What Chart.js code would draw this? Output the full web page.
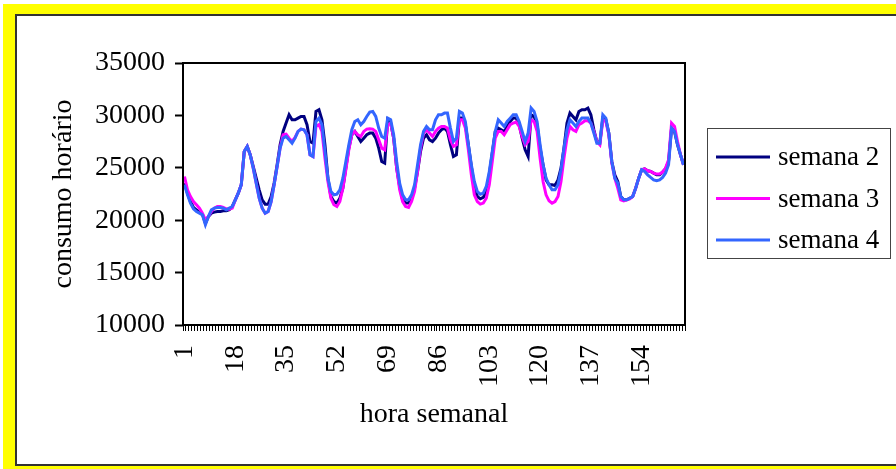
<!DOCTYPE html>
<html>
<head>
<meta charset="utf-8">
<script src="https://cdn.jsdelivr.net/npm/chart.js@4/dist/chart.umd.min.js"></script>
<style>
  body { margin: 0; background: #fff; overflow: hidden; }
  .yellow { position: absolute; left: 3px; top: 4px; width: 900px; height: 470px; background: #ffff00; }
  .inner { position: absolute; left: 15px; top: 14px; width: 900px; height: 452px; box-sizing: border-box;
           border: 2px solid #333; background: #fff; }
  canvas { position: absolute; left: 0; top: 0; }
</style>
</head>
<body>
<div class="yellow"></div>
<div class="inner"></div>
<canvas id="lineChart" width="896" height="469"></canvas>
<script>
// hours of the week 1..168
var hours = Array.from({ length: 168 }, (_, i) => String(i + 1));
var tickLabels = ['1', '18', '35', '52', '69', '86', '103', '120', '137', '154'];
var yTicks = [10000, 15000, 20000, 25000, 30000, 35000];

var semana2 = [
    23540, 22580, 21780, 21210, 20990, 20770, 20570, 19710, 20350, 20670,
    20770, 20830, 20830, 20890, 20890, 20990, 21310, 21940, 22580, 23380,
    26560, 27040, 26240, 25130, 24010, 22900, 21940, 21530, 21530, 22260,
    23540, 25290, 27200, 28470, 29270, 30060, 29580, 29580, 29740, 29900,
    29900, 29110, 27510, 27350, 30380, 30540, 29580, 27200, 24010, 22260,
    21780, 21630, 22100, 23060, 24970, 26880, 28150, 28470, 27990, 27510,
    27830, 28150, 28310, 28310, 27830, 26880, 25600, 25450, 29580, 29270,
    27830, 24970, 23220, 21940, 21630, 21630, 22100, 23060, 24650, 26560,
    27830, 28150, 27670, 27510, 27830, 28310, 28630, 28790, 28470, 27200,
    26080, 26240, 29740, 29740, 29110, 27200, 25130, 23220, 22260, 22040,
    22170, 22740, 24330, 26400, 28470, 28790, 28630, 28470, 28950, 29420,
    29740, 29740, 29110, 27830, 26720, 26080, 30060, 29900, 29110, 26880,
    25290, 23850, 23380, 23380, 23310, 23850, 24970, 26880, 29270, 30220,
    29900, 29580, 30380, 30540, 30540, 30700, 30060, 28630, 27510, 27350,
    29740, 29580, 28310, 25600, 24330, 23690, 22260, 21940, 21940, 22100,
    22260, 23060, 24010, 24810, 24900, 24710, 24650, 24490, 24330, 24330,
    24590, 24900, 25600, 28790, 28470, 27200, 26240, 25290
];
var semana3 = [
    24170, 22900, 22260, 21780, 21470, 21150, 20670, 20030, 20350, 20830,
    21150, 21310, 21310, 21210, 21090, 21050, 21150, 21940, 22580, 23380,
    26560, 27040, 26240, 24970, 23540, 22100, 21150, 20670, 20830, 21780,
    23380, 25130, 26880, 28150, 28210, 27830, 27510, 27890, 28470, 28690,
    28630, 28150, 26240, 26080, 28950, 29110, 28470, 25920, 23690, 22100,
    21470, 21310, 21780, 23060, 24810, 26720, 28150, 28470, 28150, 27990,
    28470, 28690, 28720, 28690, 28470, 27670, 26880, 26720, 29110, 29270,
    27830, 24970, 22900, 21780, 21310, 21210, 21780, 22740, 24650, 26880,
    28310, 28630, 28310, 27990, 28470, 28790, 28950, 28950, 28790, 27670,
    27040, 27200, 29580, 29580, 28790, 26720, 24330, 22420, 21780, 21530,
    21630, 22100, 23380, 25600, 27830, 28470, 28470, 28150, 28630, 29110,
    29270, 29360, 28950, 27990, 27200, 27510, 29580, 29420, 28470, 25920,
    23690, 22420, 21850, 21630, 21780, 22260, 23690, 25920, 27830, 28950,
    28630, 28470, 29110, 29270, 29490, 29490, 29270, 28470, 27510, 27200,
    29580, 29420, 28150, 25450, 24010, 23060, 21940, 21850, 21940, 22040,
    22260, 23060, 24010, 24810, 24900, 24710, 24650, 24490, 24400, 24400,
    24590, 24970, 25760, 29270, 28950, 27510, 26240, 25290
];
var semana4 = [
    23380, 22420, 21630, 21090, 20830, 20670, 20510, 19560, 20350, 20990,
    21150, 21210, 21210, 21150, 20990, 21150, 21310, 21940, 22580, 23380,
    26560, 27040, 26240, 24970, 23540, 22100, 21150, 20670, 20830, 21780,
    23380, 25130, 26880, 27830, 27990, 27670, 27350, 27830, 28470, 28690,
    28630, 28150, 26240, 26080, 29420, 29740, 29110, 26560, 24010, 22740,
    22420, 22480, 22900, 24010, 25600, 27200, 28630, 29420, 29580, 29110,
    29420, 29900, 30320, 30380, 29900, 28790, 27990, 27830, 29740, 29580,
    28150, 25600, 23540, 22420, 21940, 21940, 22420, 23380, 25290, 27200,
    28470, 28950, 28630, 28630, 29580, 30060, 30060, 30220, 30220, 28790,
    27510, 27830, 30380, 30220, 29420, 27200, 25290, 23690, 22740, 22480,
    22580, 23220, 24650, 26560, 28470, 29580, 29270, 28950, 29420, 29740,
    30060, 30060, 29420, 28470, 27510, 28310, 30700, 30380, 29420, 27200,
    25290, 24010, 23380, 22900, 22900, 23380, 24810, 26880, 28630, 29580,
    29270, 28950, 29420, 29740, 29740, 29740, 29270, 28310, 27350, 27350,
    30060, 29740, 28310, 25600, 24010, 23540, 22260, 21940, 21940, 22100,
    22260, 23060, 24010, 24810, 24650, 24330, 24080, 23850, 23760, 23850,
    24080, 24490, 25290, 28790, 28470, 27200, 26240, 25290
];

var serif = "'Liberation Serif', 'Times New Roman', serif";

// black frame round the plot area
var plotFrame = {
    id: 'plotFrame',
    afterDraw: function (chart) {
        var a = chart.chartArea;
        var ctx = chart.ctx;
        ctx.save();
        ctx.strokeStyle = '#000';
        ctx.lineWidth = 2;
        ctx.strokeRect(a.left, a.top, a.right - a.left, a.bottom - a.top);
        ctx.restore();
    }
};

// boxed legend on the right
var boxLegend = {
    id: 'boxLegend',
    afterDraw: function (chart) {
        var ctx = chart.ctx;
        ctx.save();
        ctx.fillStyle = '#fff';
        ctx.fillRect(707, 128, 183, 130);
        ctx.strokeStyle = '#444';
        ctx.lineWidth = 1;
        ctx.strokeRect(707.5, 128.5, 183, 130);
        ctx.font = '27px ' + serif;
        ctx.textBaseline = 'middle';
        ctx.textAlign = 'left';
        chart.data.datasets.forEach(function (ds, i) {
            var y = 157 + i * 41.5;
            ctx.strokeStyle = ds.borderColor;
            ctx.lineWidth = 3;
            ctx.beginPath();
            ctx.moveTo(716, y);
            ctx.lineTo(770, y);
            ctx.stroke();
            ctx.fillStyle = '#000';
            ctx.fillText(ds.label, 778, y + 1);
        });
        ctx.restore();
    }
};

var ctx = document.getElementById('lineChart').getContext('2d');

new Chart(ctx, {
    type: 'line',
    data: {
        labels: hours,
        datasets: [{
            label: 'semana 2',
            data: semana2,
            borderColor: '#000080',
            borderWidth: 3,
            pointRadius: 0,
            order: 3
        }, {
            label: 'semana 3',
            data: semana3,
            borderColor: '#ff00ff',
            borderWidth: 3,
            pointRadius: 0,
            order: 2
        }, {
            label: 'semana 4',
            data: semana4,
            borderColor: '#3366ff',
            borderWidth: 3,
            pointRadius: 0,
            order: 1
        }]
    },
    options: {
        responsive: false,
        animation: false,
        layout: {
            padding: { left: 0, top: 63, right: 211, bottom: 38 }
        },
        plugins: {
            legend: { display: false },
            tooltip: { enabled: false }
        },
        scales: {
            x: {
                type: 'category',
                offset: true,
                border: { display: false },
                grid: {
                    drawOnChartArea: false,
                    drawTicks: true,
                    tickLength: 6,
                    tickWidth: 1,
                    tickColor: '#000',
                    offset: true
                },
                ticks: {
                    autoSkip: false,
                    minRotation: 90,
                    maxRotation: 90,
                    padding: 14,
                    color: '#000',
                    font: { family: serif, size: 28 },
                    callback: function (val, idx) {
                        var l = this.getLabelForValue(val);
                        return tickLabels.indexOf(l) >= 0 ? l : '';
                    }
                },
                title: {
                    display: true,
                    text: 'hora semanal',
                    color: '#000',
                    font: { family: serif, size: 28 },
                    padding: { top: 0, bottom: 0 }
                },
                afterFit: function (scale) { scale.height = 106; }
            },
            y: {
                min: yTicks[0],
                max: yTicks[yTicks.length - 1],
                border: { display: false },
                grid: {
                    drawOnChartArea: false,
                    drawTicks: true,
                    tickLength: 8,
                    tickWidth: 2,
                    tickColor: '#000'
                },
                afterBuildTicks: function (scale) {
                    scale.ticks = yTicks.map(v => ({ value: v }));
                },
                ticks: {
                    padding: 10,
                    color: '#000',
                    font: { family: serif, size: 28 },
                    callback: v => String(v)
                },
                title: {
                    display: true,
                    text: 'consumo horário',
                    color: '#000',
                    font: { family: serif, size: 28 },
                    padding: { top: 47, bottom: 0 }
                },
                afterFit: function (scale) { scale.width = 183; }
            }
        }
    },
    plugins: [plotFrame, boxLegend]
});
</script>
</body>
</html>
